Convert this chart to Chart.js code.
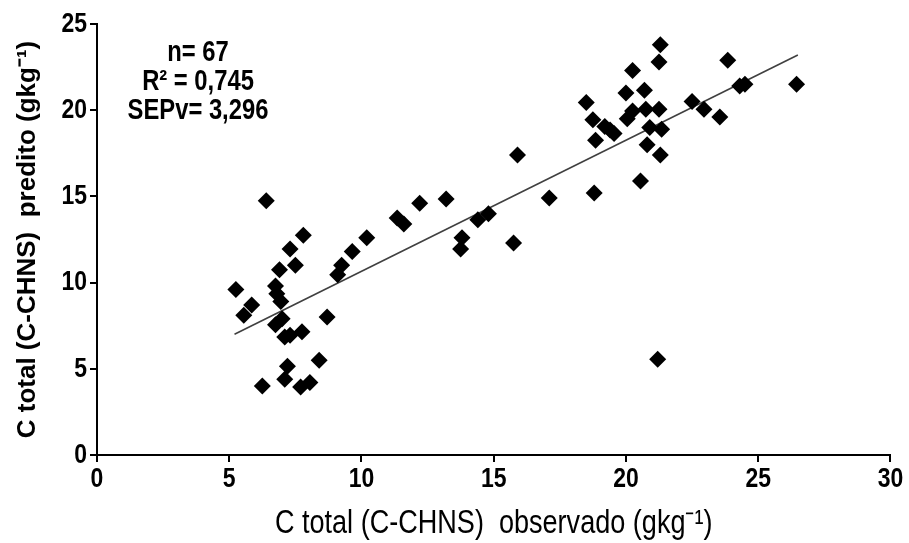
<!DOCTYPE html>
<html>
<head>
<meta charset="utf-8">
<script src="https://cdn.jsdelivr.net/npm/chart.js@4/dist/chart.umd.min.js"></script>
<style>
	html, body { margin: 0; padding: 0; background: #fff; }
	#wrap { width: 909px; height: 543px; }
</style>
</head>
<body>
<div id="wrap"><canvas id="chart" width="909" height="543"></canvas></div>
<script>
"use strict";

// C total observado (x) e predito (y), gkg-1
const observado = [
	5.25, 5.55, 5.85, 6.25, 6.4, 6.75, 6.8, 6.95, 6.9, 7.3,
	7.5, 7.8, 6.75, 7.0, 7.1, 7.3, 7.75, 7.2, 7.1, 7.7,
	8.05, 8.4, 8.7, 9.1, 9.25, 9.65, 10.2, 11.35, 11.6, 12.2,
	13.2, 13.8, 13.75, 14.4, 14.8, 15.75, 15.9, 17.1, 18.8, 18.5,
	18.75, 18.85, 19.2, 19.4, 19.55, 20.0, 20.25, 20.7, 20.05, 20.25,
	20.75, 21.25, 21.3, 21.25, 20.9, 21.35, 20.8, 21.3, 20.55, 21.2,
	22.5, 22.95, 23.55, 23.85, 24.3, 24.5, 26.45
];
const predito = [
	9.6, 8.1, 8.7, 4.0, 14.75, 9.8, 9.35, 8.9, 10.75, 11.95,
	11.0, 12.75, 7.55, 7.9, 6.85, 6.95, 7.15, 5.15, 4.4, 3.95,
	4.2, 5.5, 8.0, 10.45, 11.0, 11.8, 12.6, 13.75, 13.4, 14.6,
	14.85, 12.6, 11.95, 13.65, 14.0, 12.3, 17.4, 14.9, 15.2, 20.45,
	19.45, 18.25, 19.05, 18.85, 18.65, 21.0, 22.3, 21.15, 19.5, 19.95,
	20.05, 20.05, 23.8, 22.8, 19.0, 18.9, 18.0, 17.4, 15.9, 5.55,
	20.5, 20.05, 19.6, 22.9, 21.4, 21.5, 21.5
];

// linha de tendencia
const trendX = [5.2, 26.5];
const trendY = [7.0, 23.2];

const statsLines = ["n= 67", "R\u00b2 = 0,745", "SEPv= 3,296"];

const xTitle = "C total (C-CHNS)  observado (gkg\u207b\u00b9)";
const yTitle = "C total (C-CHNS)  predito (gkg\u207b\u00b9)";

const FONT = "'Liberation Sans', Arial, sans-serif";
// no narrow face installed: 'CondensedX' is a marker, text drawn squeezed below
const NARROW = "CondensedX, 'Liberation Sans', Arial, sans-serif";
const SQUEEZE = 0.82;

const canvas = document.getElementById('chart');
const c2d = canvas.getContext('2d');
const origFillText = c2d.fillText.bind(c2d);
c2d.fillText = function (text, x, y, maxWidth) {
	if (this.font.indexOf('CondensedX') < 0) {
		return maxWidth === undefined ? origFillText(text, x, y) : origFillText(text, x, y, maxWidth);
	}
	this.save();
	this.translate(x, y);
	this.scale(SQUEEZE, 1);
	origFillText(text, 0, 0);
	this.restore();
};

const statsPlugin = {
	id: 'stats',
	afterDraw: function (chart) {
		const ctx = chart.ctx;
		ctx.save();
		ctx.fillStyle = '#000';
		ctx.font = 'bold 29px ' + NARROW;
		ctx.textAlign = 'center';
		ctx.textBaseline = 'middle';
		statsLines.forEach(function (t, i) {
			ctx.fillText(t, 198, 53 + i * 29);
		});
		ctx.restore();
	}
};

function axisOpts(min, max) {
	return {
		type: 'linear',
		min: min, max: max,
		border: { display: true, color: '#000', width: 2 },
		grid: { display: true, drawOnChartArea: false, drawTicks: true, tickLength: 7, color: '#000', lineWidth: 2 },
		ticks: { stepSize: 5, color: '#000', padding: 3, font: { family: NARROW, size: 28, weight: 'bold', lineHeight: 1 } }
	};
}

const xAxis = axisOpts(0, 30);
xAxis.title = {
	display: true, text: xTitle, color: '#000', padding: { top: 0, bottom: 1 },
	font: { family: NARROW, size: 33, weight: 'normal', lineHeight: 1.1 }
};
xAxis.afterFit = function (s) { s.height = 88; };

const yAxis = axisOpts(0, 25);
yAxis.title = {
	display: true, text: yTitle, color: '#000', padding: { top: 12, bottom: 0 },
	font: { family: FONT, size: 26, weight: 'bold', lineHeight: 1.2 }
};
yAxis.afterFit = function (s) { s.width = 97; };

new Chart(canvas, {
	type: 'scatter',
	data: {
		datasets: [
			{
				label: 'dados',
				data: observado.map(function (v, i) { return { x: v, y: predito[i] }; }),
				pointStyle: 'rectRot',
				pointRadius: 8.5,
				pointHoverRadius: 8.5,
				backgroundColor: '#000',
				borderColor: '#000',
				borderWidth: 0
			},
			{
				type: 'line',
				label: 'tendencia',
				data: trendX.map(function (v, i) { return { x: v, y: trendY[i] }; }),
				borderColor: '#404040',
				borderWidth: 1.6,
				pointRadius: 0,
				fill: false
			}
		]
	},
	options: {
		responsive: false,
		animation: false,
		layout: { padding: { top: 24, right: 18, bottom: 0, left: 0 } },
		plugins: { legend: { display: false }, tooltip: { enabled: false } },
		scales: { x: xAxis, y: yAxis }
	},
	plugins: [statsPlugin]
});
</script>
</body>
</html>
